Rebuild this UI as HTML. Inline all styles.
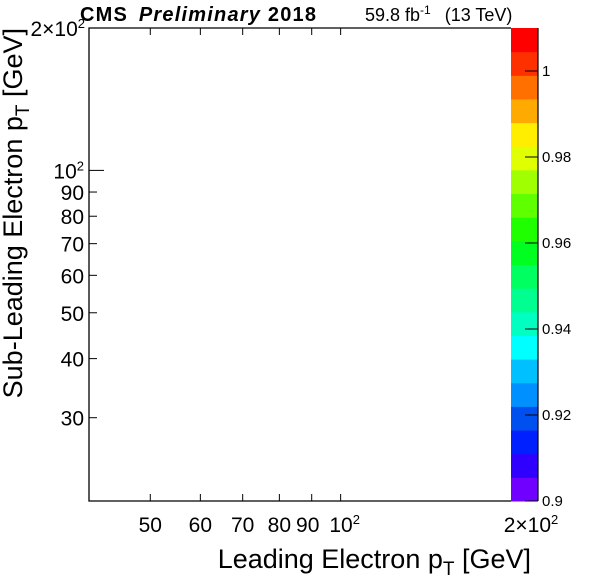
<!DOCTYPE html>
<html><head><meta charset="utf-8"><style>
body{margin:0;background:#fff;}
svg{display:block;font-family:"Liberation Sans",sans-serif;}
</style></head><body>
<svg id="c" width="598" height="576" viewBox="0 0 598 576">
<rect width="598" height="576" fill="#fff"/>
<g id="pal"></g>
<g id="ax"></g>
<text x="80" y="21" font-size="20" font-weight="bold" textLength="236">CMS <tspan font-style="italic" dx="4">Preliminary</tspan> 2018</text>
<text x="365" y="21" font-size="18">59.8 fb<tspan dy="-7" font-size="12">-1</tspan><tspan dy="7" dx="14">(13 TeV)</tspan></text>
<text x="531" y="568" font-size="27" text-anchor="end">Leading Electron p<tspan dy="7" font-size="19">T</tspan><tspan dy="-7"> [GeV]</tspan></text>
<text transform="translate(22,28) rotate(-90)" font-size="27" text-anchor="end">Sub-Leading Electron p<tspan dy="7" font-size="19">T</tspan><tspan dy="-7"> [GeV]</tspan></text>
</svg>
<script>
const paletteColors=["#7000ff","#3000ff","#0020ff","#0050f0","#0090ff","#00c0ff","#00ffff","#00ffc0","#00ff90","#00ff60","#00ff20","#20ff00","#60ff00","#a0ff00","#e0ff00","#ffee00","#ffaa00","#ff7000","#ff3000","#ff0000"];
const zMin=0.9, zMax=1.01;
const zTicks=[0.9,0.92,0.94,0.96,0.98,1];
const zTickLabels=["0.9","0.92","0.94","0.96","0.98","1"];
const xMin=40, xMax=200;
const yMin=20, yMax=200;
const xMajor=[50,60,70,80,90,100,200];
const xLabels=["50","60","70","80","90","10^2","2×10^2"];
const yMajor=[30,40,50,60,70,80,90,100,200];
const yLabels=["30","40","50","60","70","80","90","10^2","2×10^2"];
const L=89,R=531,T=28,B=501,PL=511,PR=538;
const NS="http://www.w3.org/2000/svg";
const X=v=>L+(Math.log10(v)-Math.log10(xMin))/(Math.log10(xMax)-Math.log10(xMin))*(R-L);
const Y=v=>B-(Math.log10(v)-Math.log10(yMin))/(Math.log10(yMax)-Math.log10(yMin))*(B-T);
const Z=v=>B-(v-zMin)/(zMax-zMin)*(B-T);
function mk(tag,attrs,parent,txt){const e=document.createElementNS(NS,tag);for(const k in attrs)e.setAttribute(k,attrs[k]);if(txt!==undefined)e.textContent=txt;parent.appendChild(e);return e;}
function label(t,s){const p=s.split('^');t.appendChild(document.createTextNode(p[0]));if(p[1]){mk('tspan',{dy:-8,'font-size':13},t,p[1]);}}
const pal=document.getElementById('pal'),ax=document.getElementById('ax');
const n=paletteColors.length;
paletteColors.forEach((c,i)=>{
 const z0=zMin+(zMax-zMin)*i/n,z1=zMin+(zMax-zMin)*(i+1)/n;
 const r=mk('rect',{x:PL,y:Z(z1),width:PR-PL,height:Z(z0)-Z(z1)+0.5,fill:c},pal);
 
 
});
mk('line',{x1:PR,y1:T,x2:PR,y2:B,stroke:'#000','stroke-width':1.2},pal);
zTicks.forEach((z,i)=>{
 const y=Z(z);
 mk('line',{x1:PR-13,y1:y,x2:PR,y2:y,stroke:'#000'},pal);
 const t=mk('text',{x:PR+4,y:y+5,'font-size':15},pal,zTickLabels[i]);
 
 
});
mk('polyline',{points:`${PL},${T} ${L},${T} ${L},${B} ${PL},${B}`,fill:'none',stroke:'#000','stroke-width':1.3},ax);
xMajor.forEach((v,i)=>{
 const x=X(v);
 if(v<xMax){mk('line',{x1:x,y1:B,x2:x,y2:B-7,stroke:'#000'},ax);mk('line',{x1:x,y1:T,x2:x,y2:T+7,stroke:'#000'},ax);}
 const t=mk('text',{x:v===100?x+4:(v===90?x-4:x),y:532,'font-size':21,'text-anchor':'middle'},ax);
 label(t,xLabels[i]);
 
 
});
yMajor.forEach((v,i)=>{
 const y=Y(v);
 if(v<yMax)mk('line',{x1:L,y1:y,x2:L+(v===100?15:8),y2:y,stroke:'#000'},ax);
 const t=mk('text',{x:v===200?85:84,y:y+8,'font-size':21,'text-anchor':'end'},ax);
 label(t,yLabels[i]);
 
 
});
</script>
</body></html>
